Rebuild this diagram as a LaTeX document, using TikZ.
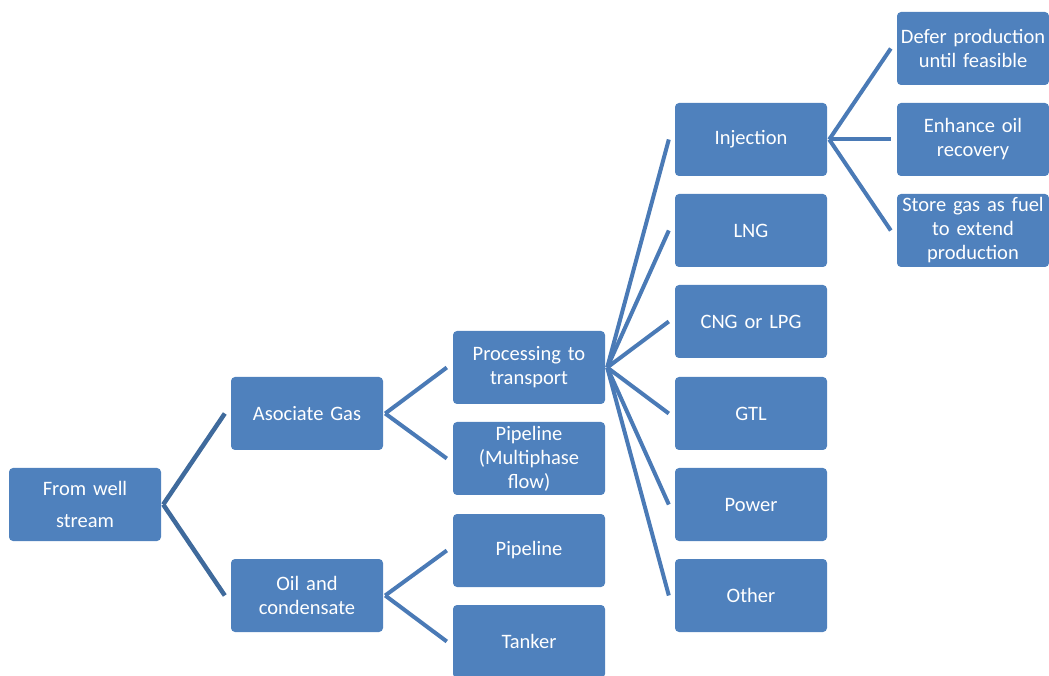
\documentclass[tikz,border=0pt]{standalone}
\usepackage{fontspec}
\setmainfont{Carlito}
\definecolor{boxblue}{HTML}{4F81BD}
\definecolor{linkdark}{HTML}{3F6A9C}
\definecolor{linkblue}{HTML}{4A7AB6}
\begin{document}
\begin{tikzpicture}[x=1pt,y=1pt,
  box/.style={fill=boxblue, draw=none, rounded corners=4pt, minimum width=152pt, minimum height=73pt,
    text width=150pt, align=center, text=white, inner sep=0pt,
    font=\fontsize{20.5pt}{24pt}\selectfont},
  link1/.style={draw=linkdark, line width=4.5pt},
  link2/.style={draw=linkblue, line width=4pt}]
\useasboundingbox (0,0) rectangle (1049,675);
\begin{scope}
\clip (0,0) rectangle (1049,675);
\node[box] (fws) at (85,170.5) {From well\\[8pt]stream};
\node[box] (ag) at (307,261.5) {Asociate Gas};
\node[box] (oc) at (307,79.5) {Oil and\\condensate};
\node[box] (ptt) at (529,307.5) {Processing to\\transport};
\node[box] (pmf) at (529,216.5) {Pipeline\\(Multiphase\\flow)};
\node[box] (pl) at (529,124.5) {Pipeline};
\node[box] (tk) at (529,33.5) {Tanker};
\node[box] (inj) at (751,535.5) {Injection};
\node[box] (lng) at (751,444.5) {LNG};
\node[box] (cng) at (751,353.5) {CNG or LPG};
\node[box] (gtl) at (751,261.5) {GTL};
\node[box] (pow) at (751,170.5) {Power};
\node[box] (oth) at (751,79.5) {Other};
\node[box] (def) at (973,626.5) {Defer production\\until feasible};
\node[box] (eor) at (973,535.5) {Enhance oil\\recovery};
\node[box] (sto) at (973,444.5) {Store gas as fuel\\to extend\\production};
\end{scope}
\foreach \c in {ag,oc}
  \draw[link1] ([xshift=2pt]fws.east) -- ([xshift=-6pt]\c.west);
\foreach \c in {ptt,pmf}
  \draw[link2] ([xshift=2pt]ag.east) -- ([xshift=-6pt]\c.west);
\foreach \c in {pl,tk}
  \draw[link2] ([xshift=2pt]oc.east) -- ([xshift=-6pt]\c.west);
\foreach \c in {inj,lng,cng,gtl,pow,oth}
  \draw[link2] ([xshift=2pt]ptt.east) -- ([xshift=-6pt]\c.west);
\foreach \c in {def,eor,sto}
  \draw[link2] ([xshift=2pt]inj.east) -- ([xshift=-6pt]\c.west);
\end{tikzpicture}
\end{document}
